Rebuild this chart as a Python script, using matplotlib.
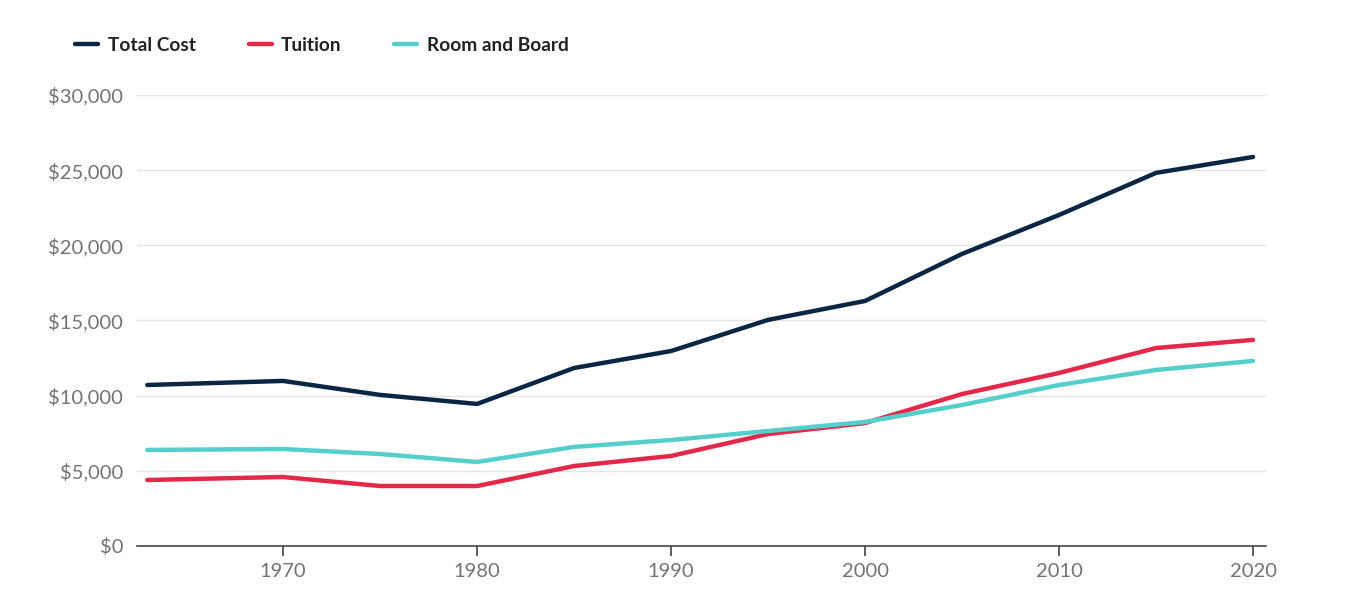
import matplotlib.pyplot as plt
from matplotlib import rcParams
from matplotlib.ticker import FuncFormatter

rcParams['font.family'] = 'sans-serif'
rcParams['font.sans-serif'] = ['Lato', 'DejaVu Sans']

years = [1963, 1970, 1975, 1980, 1985, 1990, 1995, 2000, 2005, 2010, 2015, 2020]
total_cost = [10710, 10980, 10050, 9450, 11840, 12970, 15040, 16300, 19430, 22020, 24820, 25880]
tuition = [4390, 4590, 3990, 3990, 5320, 5990, 7450, 8180, 10110, 11510, 13170, 13710]
room_board = [6390, 6450, 6120, 5590, 6590, 7050, 7650, 8250, 9380, 10710, 11710, 12310]

x_ticks = [1970, 1980, 1990, 2000, 2010, 2020]
y_ticks = [0, 5000, 10000, 15000, 20000, 25000, 30000]

fig = plt.figure(figsize=(13.46, 5.96), dpi=100)
ax = fig.add_axes([0.1018, 0.0839, 0.8388, 0.7567])

ax.plot(years, total_cost, color='#0b2545', lw=3.2, label='Total Cost', solid_capstyle='round', zorder=3)
ax.plot(years, tuition, color='#e3284a', lw=3.2, label='Tuition', solid_capstyle='round', zorder=3)
ax.plot(years, room_board, color='#55cfcc', lw=3.2, label='Room and Board', solid_capstyle='round', zorder=3)

ax.set_xlim(1962.47, 2020.67)
ax.set_ylim(0, 30000)
ax.set_xticks(x_ticks)
ax.set_yticks(y_ticks)
ax.yaxis.set_major_formatter(FuncFormatter(lambda v, p: '${:,.0f}'.format(v)))

ax.grid(axis='y', color='#e4e4e4', lw=1)
ax.set_axisbelow(True)
for s in ['top', 'right', 'left']:
    ax.spines[s].set_visible(False)
ax.spines['bottom'].set_color('#444444')
ax.spines['bottom'].set_linewidth(1.2)
ax.spines['bottom'].set_zorder(4)

ax.tick_params(axis='x', length=7, width=1.2, color='#444444', pad=5, labelsize=14.5, labelcolor='#737373')
ax.tick_params(axis='y', length=0, pad=10, labelsize=14.5, labelcolor='#737373')

leg = ax.legend(ncol=3, loc='center left', bbox_to_anchor=(-0.07, 1.11), frameon=False,
                handlelength=1.2, handletextpad=0.5, columnspacing=2.75,
                prop={'size': 13.8, 'weight': 'bold'})
for t in leg.get_texts():
    t.set_color('#222222')

plt.savefig('out.png', dpi=100)
